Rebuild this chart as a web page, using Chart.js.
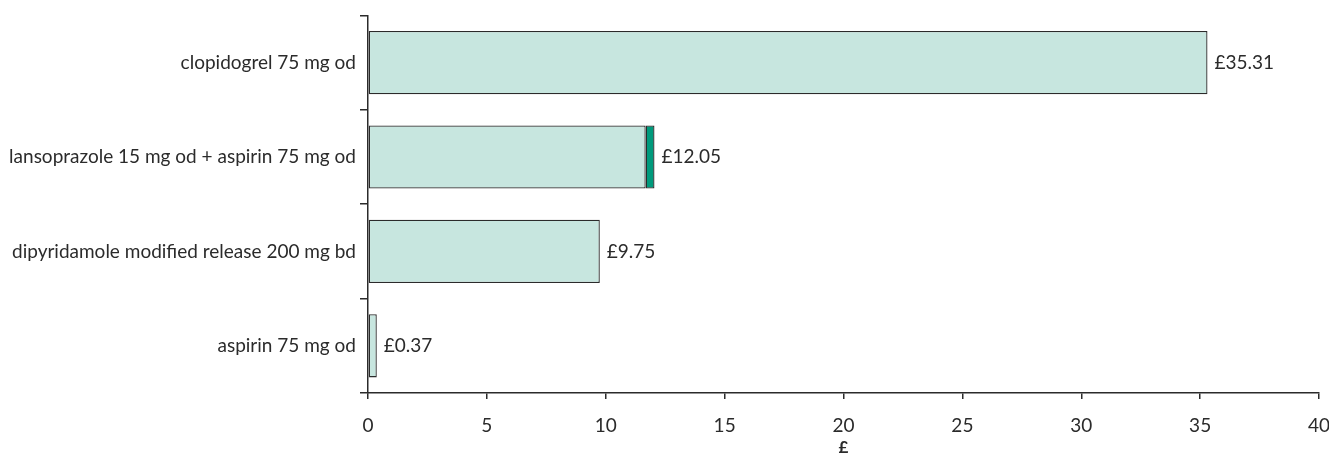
<!DOCTYPE html>
<html>
<head>
<meta charset="utf-8">
<script src="https://cdn.jsdelivr.net/npm/chart.js@4/dist/chart.umd.min.js"></script>
<style>
  html, body { margin: 0; padding: 0; background: #fff; }
  #wrap { width: 1329px; height: 464px; }
</style>
</head>
<body>
<div id="wrap"><canvas id="costChart"></canvas></div>
<script>
const treatments = [
  "clopidogrel 75 mg od",
  "lansoprazole 15 mg od + aspirin 75 mg od",
  "dipyridamole modified release 200 mg bd",
  "aspirin 75 mg od",
];
const mainCost = [35.31, 11.68, 9.75, 0.37];
const aspirinAddOn = [0, 0.37, 0, 0];
const xTicks = [0, 5, 10, 15, 20, 25, 30, 35, 40];

const ink = "#2b2b2b";
const font = { family: "Lato, 'Open Sans', sans-serif", size: 19 };

// writes the total cost just past the end of each bar
const totalLabels = {
  id: "totalLabels",
  afterDatasetsDraw(chart) {
    const ctx = chart.ctx;
    const xScale = chart.scales.x;
    const meta = chart.getDatasetMeta(0);
    ctx.save();
    ctx.font = `${font.size}px ${font.family}`;
    ctx.fillStyle = ink;
    ctx.textBaseline = "middle";
    treatments.forEach((t, i) => {
      const total = mainCost[i] + aspirinAddOn[i];
      const x = xScale.getPixelForValue(total) + 7;
      ctx.fillText("£" + total.toFixed(2), x, meta.data[i].y);
    });
    ctx.restore();
  },
};

new Chart(document.getElementById("costChart").getContext("2d"), {
  type: "bar",
  data: {
    labels: treatments,
    datasets: [
      {
        data: mainCost,
        backgroundColor: "#c7e6df",
        borderColor: ink,
        borderWidth: 1.3,
        borderSkipped: false,
      },
      {
        data: aspirinAddOn,
        backgroundColor: "#009a7c",
        borderColor: ink,
        borderWidth: 1.3,
        borderSkipped: false,
      },
    ],
  },
  options: {
    indexAxis: "y",
    responsive: true,
    maintainAspectRatio: false,
    animation: false,
    datasets: {
      bar: { barPercentage: 0.67, categoryPercentage: 1 },
    },
    layout: { padding: { top: 15, right: 0, left: 0, bottom: 0 } },
    scales: {
      x: {
        stacked: true,
        min: 0,
        max: 40,
        afterBuildTicks: (axis) => {
          axis.ticks = xTicks.map((v) => ({ value: v }));
        },
        afterFit: (axis) => {
          axis.height = 71;
          axis.paddingRight = 10;
        },
        border: { display: true, color: ink, width: 1.5 },
        grid: {
          drawOnChartArea: false,
          drawTicks: true,
          tickLength: 6,
          color: ink,
          lineWidth: 1.5,
        },
        ticks: { color: ink, font: font, padding: 15, maxRotation: 0 },
        title: {
          display: true,
          text: "£",
          color: ink,
          font: { family: font.family, size: 17, weight: "bold" },
          padding: { top: 2, bottom: 6 },
        },
      },
      y: {
        stacked: true,
        afterFit: (axis) => {
          axis.width = 368;
        },
        border: { display: true, color: ink, width: 1.5 },
        grid: {
          offset: true,
          drawOnChartArea: false,
          drawTicks: true,
          tickLength: 8,
          color: ink,
          lineWidth: 1.5,
        },
        ticks: { color: ink, font: font, padding: 4 },
      },
    },
    plugins: {
      legend: { display: false },
      tooltip: { enabled: false },
    },
  },
  plugins: [totalLabels],
});
</script>
</body>
</html>
